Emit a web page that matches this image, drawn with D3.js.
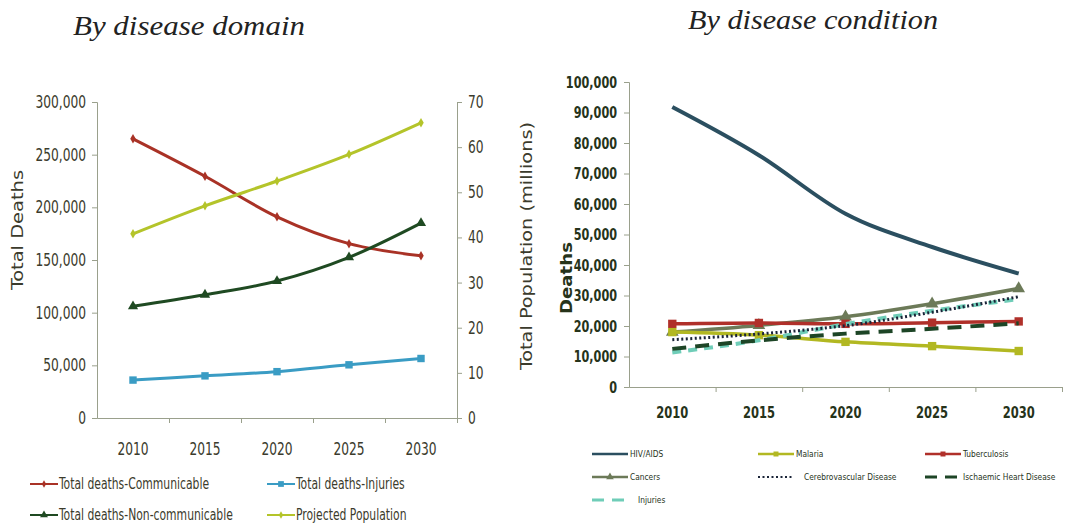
<!DOCTYPE html>
<html>
<head>
<meta charset="utf-8">
<script src="https://cdn.jsdelivr.net/npm/d3@7"></script>
<style>
  body { margin: 0; background: #fff; }
  svg { display: block; }
  .tick text, .lab { font-family: "DejaVu Sans Condensed", "DejaVu Sans", sans-serif; }
  .title { font-family: "Liberation Serif", "Times New Roman", serif; font-style: italic; font-size: 28px; fill: #222; }
</style>
</head>
<body>
<svg id="chart" width="1066" height="526"></svg>
<script>
// ---- data ----
var years = ["2010", "2015", "2020", "2025", "2030"];

// left chart: by disease domain
var communicable    = [265000, 229500, 191000, 165500, 154000];
var nonCommunicable = [106000, 117000, 130000, 152500, 185000];
var injuriesTotal   = [36000, 40000, 44000, 50500, 56500];
var population      = [40.8, 47, 52.5, 58.4, 65.4]; // millions

// right chart: by disease condition
var hivAids         = [91800, 76000, 56800, 45900, 37200];
var malaria         = [18000, 17000, 14800, 13400, 11800];
var tuberculosis    = [20700, 21000, 20700, 21100, 21500];
var cancers         = [18000, 20200, 23000, 27300, 32300];
var cerebrovascular = [15500, 17400, 20100, 24500, 29600];
var ischaemic       = [12500, 15300, 17500, 19100, 20900];
var injuries        = [11300, 15300, 20600, 25000, 28800];

var svg = d3.select("#chart");
var axisCol = "#9aa08c";
var fmt = d3.format(",");

// squeeze text horizontally (the original type is tall and narrow)
function squeeze(sel, f) {
  sel.each(function() {
    var w = this.getComputedTextLength();
    d3.select(this).attr("textLength", w * f).attr("lengthAdjust", "spacingAndGlyphs");
  });
}
function fit(sel, len) {
  sel.attr("textLength", len).attr("lengthAdjust", "spacingAndGlyphs");
}

// ---- left chart ----
var xL = d3.scaleBand().domain(years).range([97, 457]);
var yL = d3.scaleLinear().domain([0, 300000]).range([418, 102]);
var yP = d3.scaleLinear().domain([0, 70]).range([418, 102]);

svg.append("text").attr("class", "title").attr("x", 73).attr("y", 35)
  .text("By disease domain").call(fit, 232);

var gl = svg.append("g");

gl.append("g")
  .attr("transform", "translate(97,0)")
  .call(d3.axisLeft(yL).tickValues(d3.range(0, 300001, 50000)).tickFormat(fmt).tickSize(5).tickPadding(6))
  .call(styleAxis, 17, "#3b3b2c", "normal", 0.8);

gl.append("g")
  .attr("transform", "translate(457,0)")
  .call(d3.axisRight(yP).tickValues(d3.range(0, 71, 10)).tickSize(5).tickPadding(6))
  .call(styleAxis, 17, "#3b3b2c", "normal", 0.8);

drawXAxis(gl, xL, 418, 25, 17, "#3b3b2c", "normal", 0.8);

gl.append("text").attr("class", "lab")
  .attr("transform", "translate(23,230) rotate(-90)")
  .attr("text-anchor", "middle").attr("font-size", 16).attr("fill", "#3b3b2c")
  .text("Total Deaths").call(fit, 120);
gl.append("text").attr("class", "lab")
  .attr("transform", "translate(532,246) rotate(-90)")
  .attr("text-anchor", "middle").attr("font-size", 16).attr("fill", "#3b3b2c")
  .text("Total Population (millions)").call(fit, 248);

var leftSeries = [
  { name: "Total deaths-Communicable", values: communicable, y: yL, color: "#a93226", sym: d3.symbolDiamond, size: 26 },
  { name: "Total deaths-Injuries", values: injuriesTotal, y: yL, color: "#3a9cc4", sym: d3.symbolSquare, size: 55 },
  { name: "Total deaths-Non-communicable", values: nonCommunicable, y: yL, color: "#1f4a22", sym: d3.symbolTriangle, size: 45 },
  { name: "Projected Population", values: population, y: yP, color: "#b4c42a", sym: d3.symbolDiamond, size: 26 }
];

leftSeries.forEach(function(s) {
  var line = d3.line()
    .x(function(d, i) { return xL(years[i]) + xL.bandwidth() / 2; })
    .y(function(d) { return s.y(d); })
    .curve(d3.curveMonotoneX);
  gl.append("path").datum(s.values)
    .attr("d", line).attr("fill", "none")
    .attr("stroke", s.color).attr("stroke-width", 3);
  gl.append("g").selectAll("path").data(s.values).enter().append("path")
    .attr("transform", function(d, i) { return "translate(" + (xL(years[i]) + xL.bandwidth() / 2) + "," + s.y(d) + ")"; })
    .attr("d", d3.symbol().type(s.sym).size(s.size))
    .attr("fill", s.color);
});

// left legend
var legL = gl.append("g");
leftSeries.forEach(function(s, i) {
  var lx = i % 2 === 0 ? 30 : 267;
  var ly = i < 2 ? 484 : 515;
  var g = legL.append("g").attr("transform", "translate(" + lx + "," + ly + ")");
  g.append("line").attr("x1", 0).attr("x2", 28).attr("stroke", s.color).attr("stroke-width", 2);
  g.append("path").attr("transform", "translate(14,0)")
    .attr("d", d3.symbol().type(s.sym).size(s.size * 0.6)).attr("fill", s.color);
  g.append("text").attr("class", "lab").attr("x", 29).attr("dy", "0.35em")
    .attr("font-size", 15).attr("fill", "#3b3b2c").text(s.name).call(squeeze, 0.8);
});

// ---- right chart ----
var xR = d3.scaleBand().domain(years).range([629, 1062]);
var yR = d3.scaleLinear().domain([0, 100000]).range([387, 82]);

svg.append("text").attr("class", "title").attr("x", 688).attr("y", 29)
  .text("By disease condition").call(fit, 250);

var gr = svg.append("g");

gr.append("g")
  .attr("transform", "translate(629,0)")
  .call(d3.axisLeft(yR).tickValues(d3.range(0, 100001, 10000)).tickFormat(fmt).tickSize(5).tickPadding(7))
  .call(styleAxis, 16, "#26331a", "bold", 0.78);

drawXAxis(gr, xR, 387, 20, 16, "#26331a", "bold", 0.8);

gr.append("text").attr("class", "lab")
  .attr("transform", "translate(572,278) rotate(-90)")
  .attr("text-anchor", "middle").attr("font-size", 16).attr("font-weight", "bold").attr("fill", "#26331a")
  .text("Deaths").call(fit, 72);

var rightSeries = [
  { name: "HIV/AIDS", values: hivAids, color: "#2b4f60", width: 4, dash: null, sym: null },
  { name: "Malaria", values: malaria, color: "#b2b822", width: 3.5, dash: null, sym: d3.symbolSquare },
  { name: "Tuberculosis", values: tuberculosis, color: "#b0302a", width: 3.5, dash: null, sym: d3.symbolSquare },
  { name: "Cancers", values: cancers, color: "#6c7a58", width: 3.5, dash: null, sym: d3.symbolTriangle },
  { name: "Cerebrovascular Disease", values: cerebrovascular, color: "#1a2438", width: 3, dash: "2,2.5", sym: null },
  { name: "Ischaemic Heart Disease", values: ischaemic, color: "#1d4526", width: 4, dash: "14,9", sym: null },
  { name: "Injuries", values: injuries, color: "#6fcdb8", width: 4, dash: "9,7", sym: null }
];

// draw order so the dashed lines sit on top like the original
[3, 2, 1, 0, 6, 4, 5].forEach(function(k) {
  var s = rightSeries[k];
  var line = d3.line()
    .x(function(d, i) { return xR(years[i]) + xR.bandwidth() / 2; })
    .y(function(d) { return yR(d); })
    .curve(d3.curveMonotoneX);
  gr.append("path").datum(s.values)
    .attr("d", line).attr("fill", "none")
    .attr("stroke", s.color).attr("stroke-width", s.width)
    .attr("stroke-dasharray", s.dash);
  if (s.sym) {
    gr.append("g").selectAll("path").data(s.values).enter().append("path")
      .attr("transform", function(d, i) { return "translate(" + (xR(years[i]) + xR.bandwidth() / 2) + "," + yR(d) + ")"; })
      .attr("d", d3.symbol().type(s.sym).size(70))
      .attr("fill", s.color);
  }
});

// right legend
var legR = gr.append("g");
rightSeries.forEach(function(s, i) {
  var lx = [592, 758, 925][i % 3];
  var ly = [454, 477, 500][Math.floor(i / 3)];
  var g = legR.append("g").attr("transform", "translate(" + lx + "," + ly + ")");
  g.append("line").attr("x1", 0).attr("x2", 36)
    .attr("stroke", s.color).attr("stroke-width", s.dash ? s.width - 1 : 2.5)
    .attr("stroke-dasharray", s.dash ? (s.name === "Cerebrovascular Disease" ? "2,2.5" : "12,8") : null);
  if (s.sym) {
    g.append("path").attr("transform", "translate(18,0)")
      .attr("d", d3.symbol().type(s.sym).size(25)).attr("fill", s.color);
  }
  g.append("text").attr("class", "lab").attr("x", s.name === "Injuries" || s.name === "Cerebrovascular Disease" ? 46 : 38).attr("dy", "0.35em")
    .attr("font-size", 9).attr("fill", "#26331a").text(s.name).call(squeeze, 0.92);
});

// ---- helpers ----
function styleAxis(g, size, col, weight, f) {
  g.select(".domain").attr("stroke", axisCol);
  g.selectAll(".tick line").attr("stroke", axisCol);
  g.selectAll(".tick text").attr("font-size", size).attr("fill", col).attr("font-weight", weight);
  if (f) g.selectAll(".tick text").call(squeeze, f);
}

function drawXAxis(g, x, yPos, pad, size, col, weight, f) {
  var r = x.range();
  var bounds = years.map(function(d) { return x(d); }).concat([r[1]]);
  // domain line + ticks at band edges
  g.append("g")
    .attr("transform", "translate(0," + yPos + ")")
    .call(d3.axisBottom(d3.scaleLinear().domain(r).range(r))
      .tickValues(bounds.slice(1)).tickFormat("").tickSize(5).tickSizeOuter(0))
    .call(styleAxis, size, col, weight);
  // category labels at band centres
  g.append("g")
    .attr("transform", "translate(0," + yPos + ")")
    .call(d3.axisBottom(x).tickSize(0).tickPadding(pad))
    .call(function(a) { a.select(".domain").remove(); })
    .call(styleAxis, size, col, weight, f);
}
</script>
</body>
</html>
